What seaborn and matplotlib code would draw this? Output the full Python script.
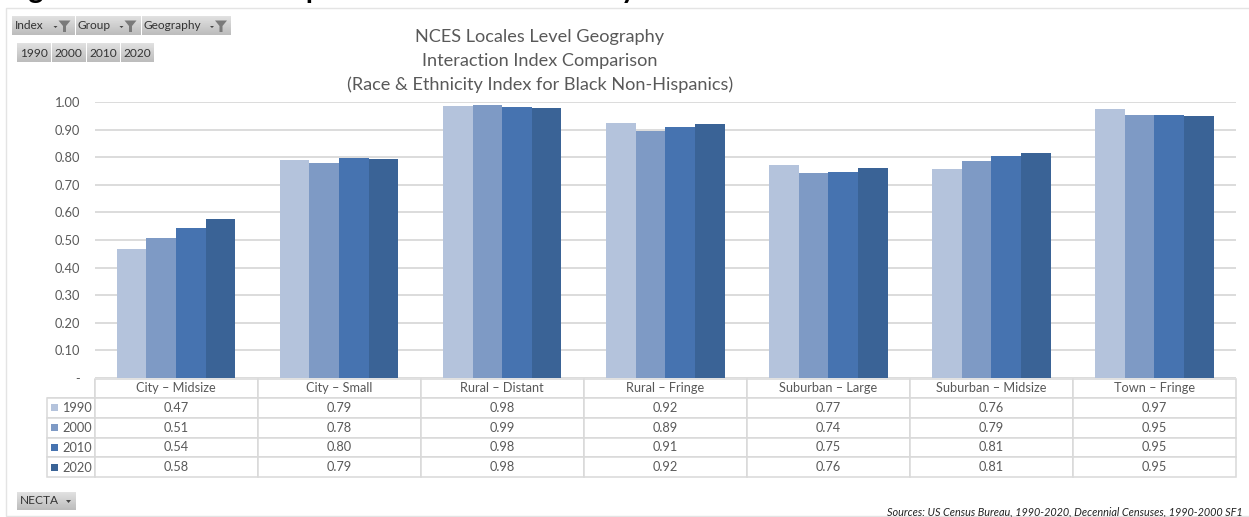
import matplotlib
matplotlib.use("Agg")
import matplotlib.pyplot as plt
from matplotlib.patches import Rectangle, Polygon
import numpy as np
import pandas as pd
import seaborn as sns

# --- data ---
locales = ["City – Midsize", "City – Small", "Rural – Distant", "Rural – Fringe",
           "Suburban – Large", "Suburban – Midsize", "Town – Fringe"]
years = ["1990", "2000", "2010", "2020"]
values_1990 = [0.466, 0.790, 0.984, 0.923, 0.770, 0.757, 0.973]
values_2000 = [0.507, 0.778, 0.988, 0.894, 0.742, 0.787, 0.954]
values_2010 = [0.543, 0.796, 0.983, 0.910, 0.746, 0.806, 0.954]
values_2020 = [0.575, 0.792, 0.978, 0.920, 0.760, 0.814, 0.950]
table_1990 = ["0.47", "0.79", "0.98", "0.92", "0.77", "0.76", "0.97"]
table_2000 = ["0.51", "0.78", "0.99", "0.89", "0.74", "0.79", "0.95"]
table_2010 = ["0.54", "0.80", "0.98", "0.91", "0.75", "0.81", "0.95"]
table_2020 = ["0.58", "0.79", "0.98", "0.92", "0.76", "0.81", "0.95"]
colors = ["#B4C3DC", "#7E9AC5", "#4673B0", "#3A6396"]
y_ticks = [0.0, 0.1, 0.2, 0.3, 0.4, 0.5, 0.6, 0.7, 0.8, 0.9, 1.0]
y_labels = ["-", "0.10", "0.20", "0.30", "0.40", "0.50", "0.60", "0.70", "0.80", "0.90", "1.00"]
title_lines = ["NCES Locales Level Geography", "Interaction Index Comparison",
               "(Race & Ethnicity Index for Black Non-Hispanics)"]
heading = "Figure 4: Black Non-Hispanic Interaction Index by NCES Locales Level"
source = "Sources: US Census Bureau, 1990-2020, Decennial Censuses, 1990-2000 SF1"

W, H = 1249, 517
GREY = "#595959"
LINE = "#D9D9D9"

sns.set_theme(style="white")
plt.rcParams["font.family"] = ["Lato", "DejaVu Sans"]

rows = []
for year, vals in zip(years, [values_1990, values_2000, values_2010, values_2020]):
    for loc, v in zip(locales, vals):
        rows.append({"locale": loc, "year": year, "value": v})
df = pd.DataFrame(rows)

fig = plt.figure(figsize=(W / 100, H / 100), dpi=100, facecolor="white")

# --- bars ---
L, R, T, B = 94.5, 1236, 102, 378
ax = fig.add_axes([L / W, 1 - B / H, (R - L) / W, (B - T) / H])
ax.yaxis.grid(True, color=LINE, lw=1.3, zorder=0)
ax.set_axisbelow(True)
sns.barplot(data=df, x="locale", y="value", hue="year", order=locales, hue_order=years,
            palette=colors, width=0.727, gap=0, saturation=1, legend=False, linewidth=0, ax=ax)
ax.set_ylim(0, 1)
ax.set_xlim(-0.5, len(locales) - 0.5)
ax.set_yticks(y_ticks, y_labels, color=GREY, fontsize=9.3)
ax.tick_params(axis="y", length=0, pad=10.5)
ax.set_xticks([])
ax.set_xlabel("")
ax.set_ylabel("")
sns.despine(ax=ax, left=True, bottom=True)

# --- overlay in pixel coords ---
ov = fig.add_axes([0, 0, 1, 1], zorder=3)
ov.set_xlim(0, W)
ov.set_ylim(H, 0)
ov.axis("off")
ov.patch.set_alpha(0)

# data table under the bars
T_L, T_R, T_T, T_B = 47, 1236, 378.5, 477
col_w = (R - L) / len(locales)
cell_text = [[""] + locales]
for year, vals in zip(years, [table_1990, table_2000, table_2010, table_2020]):
    cell_text.append([""] + vals)
col_widths = [(L - T_L) / (T_R - T_L)] + [col_w / (T_R - T_L)] * len(locales)
tb = ov.table(cellText=cell_text, colWidths=col_widths, cellLoc="center",
              bbox=[T_L / W, 1 - T_B / H, (T_R - T_L) / W, (T_B - T_T) / H])
tb.auto_set_font_size(False)
for (r, c), cell in tb.get_celld().items():
    cell.set_edgecolor(LINE)
    cell.set_linewidth(1.1)
    cell.get_text().set_fontsize(9.2)
    cell.get_text().set_color(GREY)
    if r == 0 and c == 0:
        cell.visible_edges = "BR"

row_y = [407.5, 427.5, 447.5, 467.5]
for y, col, year in zip(row_y, colors, years):
    ov.add_patch(Rectangle((51.5, y - 3.5), 7, 7, color=col, lw=0, zorder=5))
    ov.text(62, y, year, ha="left", va="center", fontsize=9.2, color=GREY, zorder=5)

# title + heading cut by the top edge
for y, line in zip([37, 61, 84.5], title_lines):
    ov.text(540, y, line, ha="center", va="center", fontsize=13.1, color=GREY)
ov.text(5, -2, heading, ha="left", va="baseline", fontsize=20.5, fontweight="bold", color="black")
ov.text(1243, 512, source, ha="right", va="center", fontsize=7.8, style="italic", color="#222222")

# chart frame
ov.plot([1249, 6.5, 6.5, 1249], [7.5, 7.5, 515.5, 515.5], color="#E4E4E4", lw=1)


def button(x0, x1, y0, y1, label, tx=None, funnel=False, arrow=False):
    grad = np.linspace(0.88, 0.74, 16).reshape(-1, 1)
    ov.imshow(grad, extent=(x0, x1, y1, y0), cmap="gray", vmin=0, vmax=1, aspect="auto", zorder=2)
    xt = (x0 + x1) / 2 if tx is None else tx
    ov.text(xt, (y0 + y1) / 2, label, ha="center" if tx is None else "left", va="center",
            fontsize=8.6, color="#333333", zorder=4)
    if arrow:
        ax_ = x1 - 10 if not funnel else x1 - 21
        ov.add_patch(Polygon([(ax_, 26), (ax_ + 4, 26), (ax_ + 2, 28)] if funnel else
                             [(ax_, 500), (ax_ + 5, 500), (ax_ + 2.5, 503)], color="#444444", lw=0, zorder=4))
    if funnel:
        fx = x1 - 16
        ov.add_patch(Polygon([(fx, 20.5), (fx + 12, 20.5), (fx + 7.5, 26), (fx + 7.5, 32),
                              (fx + 4.5, 32), (fx + 4.5, 26)], color="#7A7A7A", lw=0, zorder=4))


button(12, 74.5, 16.5, 35, "Index", tx=15, funnel=True, arrow=True)
button(76, 140.5, 16.5, 35, "Group", tx=78, funnel=True, arrow=True)
button(142, 231, 16.5, 35, "Geography", tx=144, funnel=True, arrow=True)
for x0, x1, yr in zip([17, 52, 87, 121], [51, 85.5, 119.5, 154], years):
    button(x0, x1, 44, 62.5, yr)
button(17, 76, 492, 510, "NECTA", tx=20, arrow=True)

ov.set_xlim(0, W)
ov.set_ylim(H, 0)

fig.savefig("out.png", dpi=100)
